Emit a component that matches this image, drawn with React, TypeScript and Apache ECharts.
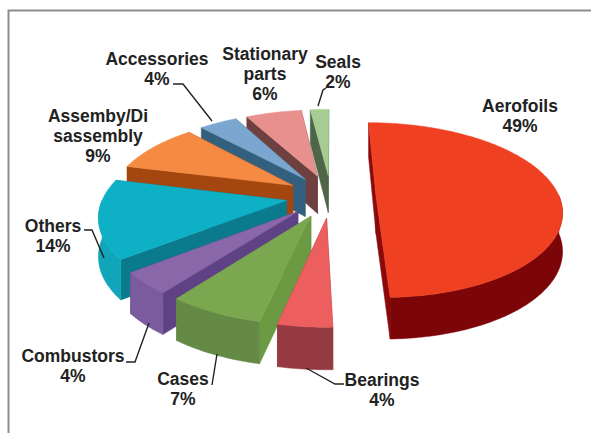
import React, { useEffect, useRef } from "react";
import * as echarts from "echarts";

const categories = ["Aerofoils", "Bearings", "Cases", "Combustors", "Others", "Assemby/Di\nsassembly", "Accessories", "Stationary\nparts", "Seals"];
const values = [49, 4, 7, 4, 14, 9, 4, 6, 2];
const topColors = ["#f04022", "#ec5f5e", "#7ba750", "#8a67a8", "#0eb0c6", "#f58a42", "#7aa6d0", "#e8908e", "#a7cc92"];
const cutColors = ["#8a0a0c", "#953a40", "#6b9a42", "#5e4285", "#0b7a8d", "#a4460f", "#34607f", "#6f4040", "#4f6548"];
const wallColors = ["#7c0508", "#953a40", "#658a45", "#7a5c9e", "#10a5b9", "#a4460f", "#34607f", "#6f4040", "#4f6548"];
// Painter's order: back slices first.
const drawOrder = [8, 7, 6, 5, 4, 3, 2, 1, 0];
// Text anchors: [centre x, first line centre y]
const labelAnchors = [[520, 106], [382, 380], [183, 379], [73, 356], [53, 226], [98, 116], [157, 59], [265, 54], [338, 62]];
const leaderLines = [
  [[173, 84], [183, 84], [212, 121]],
  [[318, 106], [323, 90], [326, 88]],
  [[84, 230], [92, 230], [104, 258]],
  [[126, 362], [135, 362], [149, 323]],
  [[212, 385], [217, 354]],
  [[306, 368], [335, 384], [344, 384]],
];

const CX = 331, CY = 196, RADIUS = 183, EXPLODE = 45, SQUASH = 0.478, PERSP = 0.0009, DEPTH = 38;
const total = values.reduce((a, b) => a + b, 0);
const rad = (d: number) => (d * Math.PI) / 180;

function project(X: number, Y: number, down: boolean) {
  const s = 1 + PERSP * Y;
  return [CX + X * s, CY + SQUASH * Y * s + (down ? DEPTH + 0.02 * Y : 0)];
}

function renderSlice(_p: any, api: any) {
  const i = api.value(0);
  const value = api.value(1);
  let before = 0;
  for (let k = 0; k < i; k++) before += values[k];
  const a0 = (before / total) * 360;
  const a1 = ((before + value) / total) * 360;
  const mid = rad((a0 + a1) / 2);
  const ox = EXPLODE * Math.sin(mid);
  const oy = -EXPLODE * Math.cos(mid);
  const rim = (deg: number, down: boolean) =>
    project(ox + RADIUS * Math.sin(rad(deg)), oy - RADIUS * Math.cos(rad(deg)), down);
  const steps = Math.max(4, Math.ceil(a1 - a0));
  const top: number[][] = [];
  for (let k = 0; k <= steps; k++) top.push(rim(a0 + ((a1 - a0) * k) / steps, false));
  const apexTop = project(ox, oy, false);
  const apexBottom = project(ox, oy, true);
  const poly = (points: number[][], fill: string) => ({
    type: "polygon",
    shape: { points },
    style: { fill, stroke: fill, lineWidth: 0.5 },
  });
  const children: any[] = [
    poly([apexTop, rim(a0, false), rim(a0, true), apexBottom], cutColors[i]),
    poly([apexTop, rim(a1, false), rim(a1, true), apexBottom], cutColors[i]),
  ];
  // Only the part of the rim that faces the viewer has a visible wall.
  const w0 = Math.max(a0, 90);
  const w1 = Math.min(a1, 270);
  if (w1 > w0) {
    const wallSteps = Math.max(4, Math.ceil(w1 - w0));
    const upper: number[][] = [];
    const lower: number[][] = [];
    for (let k = 0; k <= wallSteps; k++) {
      const d = w0 + ((w1 - w0) * k) / wallSteps;
      upper.push(rim(d, false));
      lower.push(rim(d, true));
    }
    children.push(poly([...upper, ...lower.reverse()], wallColors[i]));
  }
  children.push(poly([apexTop, ...top], topColors[i]));
  return { type: "group", children };
}

export default function App() {
  const ref = useRef<HTMLDivElement>(null);
  useEffect(() => {
    const chart = echarts.init(ref.current!, undefined, { renderer: "svg" });
    const labels = categories.map((c, i) => ({
      type: "text",
      x: labelAnchors[i][0],
      y: labelAnchors[i][1] - 10,
      z: 10,
      style: {
        text: `${c}\n${values[i]}%`,
        fill: "#222222",
        font: 'bold 17.5px "Liberation Sans", Arial, sans-serif',
        lineHeight: 20,
        align: "center",
        verticalAlign: "top",
      },
    }));
    const leaders = leaderLines.map((points) => ({
      type: "polyline",
      z: 9,
      shape: { points },
      style: { stroke: "#222222", lineWidth: 1.4, fill: "none" },
    }));
    chart.setOption({
      animation: false,
      backgroundColor: "#ffffff",
      graphic: [
        {
          type: "polyline",
          z: 8,
          shape: { points: [[8.5, 433], [8.5, 10.5], [591, 10.5]] },
          style: { stroke: "#8c8c8c", lineWidth: 2, fill: "none" },
        },
        ...leaders,
        ...labels,
      ],
      series: [
        {
          type: "custom",
          coordinateSystem: "none",
          silent: true,
          renderItem: renderSlice,
          data: drawOrder.map((i) => [i, values[i]]),
        },
      ],
    });
    return () => chart.dispose();
  }, []);
  return <div ref={ref} style={{ position: "fixed", left: 0, top: 0, width: 591, height: 433 }} />;
}
